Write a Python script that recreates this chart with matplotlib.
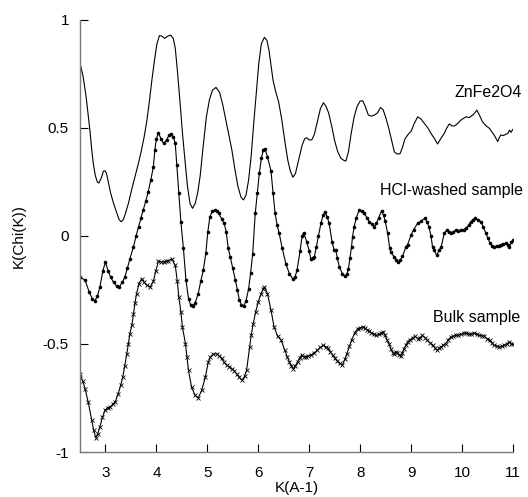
import matplotlib

matplotlib.use("Agg")
import matplotlib.pyplot as plt

# ZnFe2O4 reference spectrum (plain line)
zn_k = [2.50, 2.56, 2.62, 2.66, 2.70, 2.73, 2.76, 2.80, 2.84, 2.87, 2.92, 2.96,
        2.99, 3.02, 3.06, 3.10, 3.16, 3.22, 3.27, 3.31, 3.35, 3.40, 3.45, 3.52,
        3.58, 3.64, 3.70, 3.76, 3.81, 3.86, 3.91, 3.96, 4.01, 4.06, 4.11, 4.16,
        4.22, 4.28, 4.33, 4.37, 4.41, 4.46, 4.51, 4.56, 4.61, 4.66, 4.71, 4.76,
        4.81, 4.86, 4.92, 4.98, 5.04, 5.10, 5.17, 5.24, 5.30, 5.36, 5.42, 5.48,
        5.54, 5.60, 5.66, 5.71, 5.76, 5.81, 5.86, 5.91, 5.96, 6.01, 6.06, 6.12,
        6.17, 6.21, 6.25, 6.29, 6.34, 6.40, 6.46, 6.52, 6.58, 6.63, 6.68, 6.73,
        6.80, 6.86, 6.91, 6.95, 7.00, 7.05, 7.10, 7.16, 7.22, 7.28, 7.33, 7.38,
        7.44, 7.50, 7.56, 7.62, 7.68, 7.72, 7.77, 7.82, 7.88, 7.94, 8.00, 8.05,
        8.10, 8.16, 8.22, 8.28, 8.34, 8.40, 8.45, 8.50, 8.56, 8.62, 8.67, 8.72,
        8.78, 8.83, 8.88, 8.94, 9.00, 9.06, 9.13, 9.20, 9.26, 9.33, 9.39, 9.46,
        9.52, 9.58, 9.65, 9.70, 9.75, 9.80, 9.85, 9.91, 9.98, 10.03, 10.08,
        10.14, 10.21, 10.25, 10.29, 10.34, 10.40, 10.47, 10.54, 10.59, 10.63,
        10.67, 10.70, 10.73, 10.76, 10.81, 10.86, 10.90, 10.93, 10.96, 11.00]
zn_chi = [0.80, 0.74, 0.645, 0.56, 0.477, 0.40, 0.337, 0.28, 0.25, 0.245, 0.27,
          0.30, 0.302, 0.29, 0.245, 0.20, 0.15, 0.108, 0.075, 0.066, 0.075,
          0.11, 0.151, 0.22, 0.275, 0.33, 0.39, 0.46, 0.53, 0.62, 0.72, 0.81,
          0.89, 0.928, 0.925, 0.915, 0.925, 0.93, 0.915, 0.87, 0.77, 0.63, 0.48,
          0.352, 0.23, 0.15, 0.128, 0.15, 0.20, 0.28, 0.42, 0.55, 0.63, 0.675,
          0.688, 0.665, 0.61, 0.54, 0.47, 0.40, 0.31, 0.23, 0.18, 0.167, 0.19,
          0.26, 0.37, 0.52, 0.66, 0.80, 0.89, 0.92, 0.905, 0.86, 0.79, 0.72,
          0.67, 0.62, 0.54, 0.44, 0.35, 0.30, 0.272, 0.29, 0.36, 0.42, 0.45,
          0.455, 0.445, 0.445, 0.47, 0.53, 0.59, 0.617, 0.60, 0.57, 0.51, 0.44,
          0.39, 0.36, 0.35, 0.347, 0.39, 0.47, 0.55, 0.60, 0.625, 0.626, 0.60,
          0.56, 0.555, 0.56, 0.57, 0.595, 0.585, 0.55, 0.50, 0.44, 0.39, 0.38,
          0.38, 0.41, 0.45, 0.47, 0.485, 0.52, 0.552, 0.54, 0.521, 0.50, 0.475,
          0.45, 0.426, 0.45, 0.475, 0.50, 0.519, 0.51, 0.509, 0.52, 0.537,
          0.545, 0.552, 0.548, 0.56, 0.57, 0.583, 0.56, 0.529, 0.51, 0.498,
          0.48, 0.468, 0.45, 0.437, 0.455, 0.468, 0.465, 0.471, 0.475, 0.49,
          0.48, 0.494]

# HCl-washed sample (dots)
hcl_k = [2.50, 2.60, 2.68, 2.74, 2.79, 2.84, 2.89, 2.95, 3.00, 3.05, 3.10, 3.16,
         3.22, 3.27, 3.33, 3.38, 3.43, 3.48, 3.55, 3.60, 3.65, 3.70, 3.74, 3.79,
         3.84, 3.89, 3.94, 3.97, 4.00, 4.04, 4.09, 4.14, 4.20, 4.25, 4.28, 4.33,
         4.37, 4.40, 4.44, 4.48, 4.53, 4.58, 4.63, 4.67, 4.71, 4.76, 4.82, 4.87,
         4.92, 4.97, 5.01, 5.05, 5.10, 5.15, 5.19, 5.22, 5.28, 5.33, 5.37, 5.41,
         5.45, 5.50, 5.55, 5.59, 5.63, 5.67, 5.71, 5.76, 5.81, 5.85, 5.89, 5.94,
         5.98, 6.02, 6.06, 6.10, 6.13, 6.18, 6.25, 6.29, 6.33, 6.37, 6.41, 6.47,
         6.54, 6.61, 6.68, 6.72, 6.76, 6.82, 6.86, 6.89, 6.95, 7.00, 7.03, 7.07,
         7.10, 7.14, 7.18, 7.23, 7.27, 7.31, 7.35, 7.39, 7.45, 7.49, 7.52, 7.55,
         7.59, 7.65, 7.70, 7.74, 7.77, 7.80, 7.83, 7.85, 7.88, 7.92, 7.98, 8.03,
         8.08, 8.13, 8.18, 8.23, 8.28, 8.32, 8.36, 8.42, 8.46, 8.49, 8.54, 8.58,
         8.60, 8.67, 8.71, 8.75, 8.79, 8.83, 8.90, 8.93, 9.00, 9.05, 9.13, 9.20,
         9.27, 9.31, 9.35, 9.39, 9.42, 9.45, 9.50, 9.55, 9.59, 9.65, 9.70, 9.74,
         9.78, 9.83, 9.88, 9.93, 9.98, 10.03, 10.08, 10.13, 10.17, 10.21, 10.25,
         10.31, 10.37, 10.42, 10.47, 10.51, 10.55, 10.59, 10.63, 10.68, 10.72,
         10.76, 10.81, 10.86, 10.90, 10.93, 10.96, 11.00]
hcl_chi = [-0.19, -0.205, -0.259, -0.29, -0.30, -0.28, -0.236, -0.16, -0.12,
           -0.16, -0.19, -0.215, -0.232, -0.236, -0.215, -0.19, -0.15, -0.105,
           -0.05, 0.0, 0.043, 0.085, 0.12, 0.16, 0.205, 0.26, 0.32, 0.40, 0.45,
           0.478, 0.45, 0.429, 0.445, 0.468, 0.471, 0.46, 0.429, 0.33, 0.198,
           0.066, -0.057, -0.205, -0.29, -0.318, -0.326, -0.31, -0.267, -0.21,
           -0.159, -0.08, 0.02, 0.09, 0.115, 0.12, 0.115, 0.105, 0.08, 0.059,
           0.02, -0.057, -0.097, -0.15, -0.205, -0.25, -0.298, -0.318, -0.326,
           -0.30, -0.244, -0.17, -0.082, 0.105, 0.20, 0.29, 0.36, 0.40, 0.405,
           0.367, 0.30, 0.198, 0.105, 0.05, 0.012, -0.057, -0.128, -0.174, -0.20,
           -0.19, -0.159, -0.07, 0.0, 0.015, -0.026, -0.07, -0.105, -0.10,
           -0.097, -0.05, 0.0, 0.059, 0.095, 0.113, 0.09, 0.059, -0.03, -0.065,
           -0.066, -0.10, -0.143, -0.174, -0.187, -0.175, -0.151, -0.10, -0.05,
           -0.003, 0.04, 0.082, 0.12, 0.115, 0.105, 0.085, 0.066, 0.055, 0.043,
           0.06, 0.082, 0.116, 0.095, 0.07, 0.012, -0.057, -0.074, -0.097, -0.11,
           -0.12, -0.11, -0.094, -0.05, -0.04, 0.005, 0.03, 0.059, 0.07, 0.082,
           0.065, 0.043, 0.0, -0.05, -0.066, -0.089, -0.066, -0.05, 0.012, 0.028,
           0.02, 0.012, 0.02, 0.028, 0.025, 0.028, 0.03, 0.035, 0.05, 0.066,
           0.075, 0.082, 0.075, 0.066, 0.04, 0.012, -0.01, -0.034, -0.045, -0.05,
           -0.045, -0.045, -0.04, -0.038, -0.034, -0.04, -0.05, -0.03, -0.02]

# Bulk sample (crosses)
bulk_k = [2.50, 2.55, 2.60, 2.66, 2.73, 2.77, 2.81, 2.85, 2.89, 2.94, 2.99, 3.04,
          3.09, 3.14, 3.19, 3.25, 3.30, 3.34, 3.38, 3.42, 3.45, 3.48, 3.52, 3.55,
          3.58, 3.61, 3.66, 3.71, 3.76, 3.81, 3.88, 3.94, 3.99, 4.04, 4.09, 4.14,
          4.19, 4.23, 4.30, 4.37, 4.41, 4.44, 4.48, 4.51, 4.57, 4.60, 4.63, 4.69,
          4.76, 4.82, 4.89, 4.96, 5.02, 5.06, 5.11, 5.19, 5.23, 5.28, 5.33, 5.38,
          5.43, 5.48, 5.53, 5.58, 5.63, 5.68, 5.73, 5.77, 5.83, 5.86, 5.90, 5.95,
          6.00, 6.05, 6.10, 6.12, 6.18, 6.25, 6.31, 6.38, 6.45, 6.52, 6.57, 6.61,
          6.65, 6.69, 6.73, 6.77, 6.81, 6.85, 6.89, 6.93, 6.98, 7.03, 7.10, 7.16,
          7.22, 7.28, 7.32, 7.36, 7.41, 7.46, 7.50, 7.55, 7.60, 7.65, 7.70, 7.74,
          7.79, 7.83, 7.89, 7.95, 8.00, 8.05, 8.10, 8.14, 8.18, 8.22, 8.27, 8.31,
          8.37, 8.41, 8.45, 8.49, 8.53, 8.57, 8.60, 8.64, 8.67, 8.70, 8.73, 8.77,
          8.80, 8.83, 8.86, 8.90, 8.93, 8.98, 9.03, 9.08, 9.13, 9.18, 9.22, 9.27,
          9.32, 9.37, 9.42, 9.47, 9.51, 9.55, 9.59, 9.63, 9.68, 9.73, 9.78, 9.83,
          9.88, 9.93, 9.98, 10.03, 10.08, 10.13, 10.18, 10.24, 10.29, 10.34,
          10.39, 10.44, 10.49, 10.54, 10.58, 10.63, 10.68, 10.73, 10.78, 10.83,
          10.88, 10.93, 10.96, 11.00]
bulk_chi = [-0.637, -0.67, -0.707, -0.768, -0.853, -0.90, -0.934, -0.915, -0.884,
            -0.84, -0.807, -0.795, -0.792, -0.78, -0.768, -0.73, -0.69, -0.653,
            -0.60, -0.545, -0.50, -0.452, -0.41, -0.36, -0.31, -0.267, -0.22,
            -0.198, -0.215, -0.228, -0.236, -0.21, -0.16, -0.116, -0.12, -0.12,
            -0.118, -0.116, -0.105, -0.136, -0.21, -0.282, -0.35, -0.421, -0.498,
            -0.56, -0.622, -0.70, -0.738, -0.75, -0.714, -0.653, -0.583, -0.56,
            -0.548, -0.545, -0.555, -0.567, -0.585, -0.598, -0.605, -0.614,
            -0.625, -0.64, -0.655, -0.668, -0.65, -0.622, -0.514, -0.46, -0.406,
            -0.35, -0.305, -0.27, -0.244, -0.236, -0.267, -0.344, -0.421, -0.464,
            -0.483, -0.529, -0.56, -0.583, -0.60, -0.614, -0.60, -0.583, -0.565,
            -0.552, -0.558, -0.56, -0.555, -0.552, -0.54, -0.529, -0.515, -0.506,
            -0.515, -0.52, -0.535, -0.552, -0.565, -0.579, -0.59, -0.598, -0.57,
            -0.545, -0.51, -0.483, -0.45, -0.429, -0.425, -0.421, -0.428, -0.434,
            -0.44, -0.449, -0.455, -0.46, -0.456, -0.45, -0.444, -0.46, -0.483,
            -0.50, -0.521, -0.54, -0.548, -0.535, -0.54, -0.55, -0.557, -0.54,
            -0.521, -0.505, -0.49, -0.48, -0.471, -0.465, -0.475, -0.47, -0.46,
            -0.47, -0.483, -0.495, -0.506, -0.52, -0.529, -0.52, -0.514, -0.505,
            -0.498, -0.48, -0.468, -0.465, -0.46, -0.458, -0.455, -0.45, -0.448,
            -0.455, -0.455, -0.449, -0.455, -0.46, -0.462, -0.464, -0.475, -0.483,
            -0.495, -0.506, -0.51, -0.514, -0.51, -0.506, -0.50, -0.49, -0.50,
            -0.501]

curve_labels = ["ZnFe2O4", "HCl-washed sample", "Bulk sample"]
label_x = [11.18, 11.2, 11.14]
label_y = [0.642, 0.19, -0.40]

x_ticks = [3, 4, 5, 6, 7, 8, 9, 10, 11]
y_ticks = [-1, -0.5, 0, 0.5, 1]
y_tick_labels = ["-1", "-0.5", "0", "0.5", "1"]

plt.rcParams["font.family"] = ["Liberation Sans", "DejaVu Sans"]
plt.rcParams["axes.unicode_minus"] = False

fig = plt.figure(figsize=(5.28, 4.97), dpi=100)
ax = fig.add_axes([80 / 528, 1 - 452 / 497, 433 / 528, 432 / 497])

ax.plot(zn_k, zn_chi, color="black", linewidth=0.8)
ax.plot(hcl_k, hcl_chi, color="black", linewidth=0.8,
        marker="o", markersize=2.6, markeredgewidth=0)
ax.plot(bulk_k, bulk_chi, color="black", linewidth=0.8,
        marker="x", markersize=2.6, markeredgewidth=0.6)

for text, xv, yv in zip(curve_labels, label_x, label_y):
    ax.text(xv, yv, text, ha="right", va="baseline", fontsize=11.5,
            clip_on=False)

ax.set_xlim(2.5, 11)
ax.set_ylim(-1, 1)
ax.set_xticks(x_ticks)
ax.set_yticks(y_ticks)
ax.set_yticklabels(y_tick_labels)

for side in ["top", "right"]:
    ax.spines[side].set_visible(False)
for side in ["left", "bottom"]:
    ax.spines[side].set_color("#7a7a7a")
    ax.spines[side].set_linewidth(1.0)

ax.tick_params(direction="in", length=6, width=0.8, color="black",
               labelsize=11)
ax.tick_params(axis="x", pad=10)
ax.tick_params(axis="y", pad=8)
ax.set_xlabel("K(A-1)", fontsize=11, labelpad=1)
ax.set_ylabel("K(Chi(K))", fontsize=11, labelpad=12)

fig.savefig("out.png", dpi=100)
